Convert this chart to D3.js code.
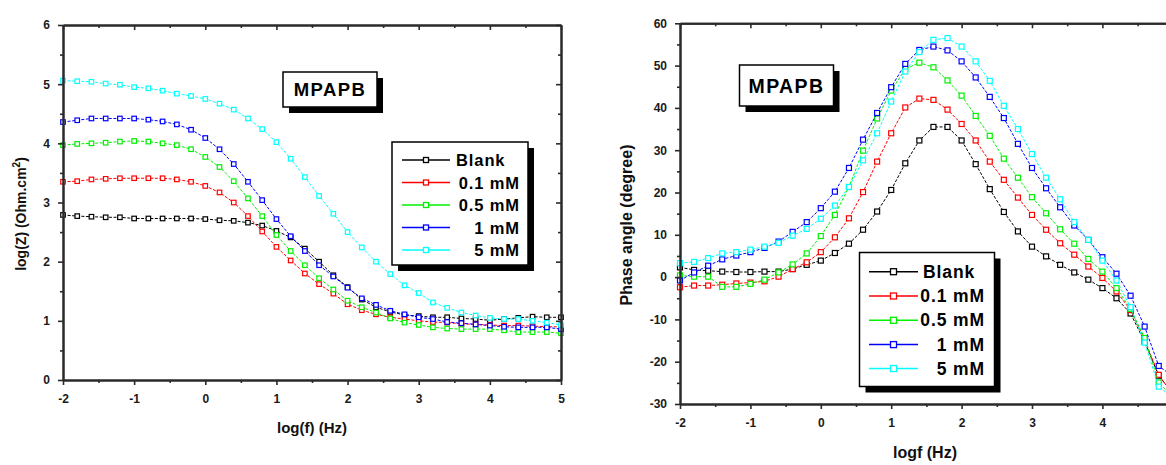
<!DOCTYPE html>
<html>
<head>
<meta charset="utf-8">
<script src="https://cdn.jsdelivr.net/npm/d3@7"></script>
<style>
  html, body { margin: 0; padding: 0; background: #fff; }
  svg { display: block; font-family: "Liberation Sans", Arial, sans-serif; }
</style>
</head>
<body>
<svg id="chart" width="1166" height="465"></svg>
<script>
// log frequency grid (Hz, decades)
const logF = [-2, -1.8, -1.6, -1.4, -1.2, -1, -0.8, -0.6, -0.4, -0.2,
  0, 0.2, 0.4, 0.6, 0.8, 1, 1.2, 1.4, 1.6, 1.8,
  2, 2.2, 2.4, 2.6, 2.8, 3, 3.2, 3.4, 3.6, 3.8,
  4, 4.2, 4.4, 4.6, 4.8, 5];

const seriesNames = ["Blank", "0.1 mM", "0.5 mM", "1 mM", "5 mM"];
const seriesColors = ["#000000", "#ff0000", "#00f000", "#0000ff", "#00ffff"];

// Bode modulus, log|Z| (Ohm.cm2)
const logZBlank = [2.79, 2.77, 2.76, 2.75, 2.75, 2.73, 2.73, 2.73, 2.73, 2.73,
  2.72, 2.70, 2.69, 2.66, 2.61, 2.52, 2.41, 2.22, 2.00, 1.77,
  1.57, 1.36, 1.23, 1.15, 1.10, 1.08, 1.06, 1.06, 1.04, 1.03,
  1.01, 1.03, 1.05, 1.07, 1.06, 1.06];
const logZ01 = [3.35, 3.36, 3.39, 3.40, 3.41, 3.41, 3.41, 3.41, 3.39, 3.35,
  3.28, 3.17, 3.00, 2.77, 2.51, 2.25, 2.02, 1.80, 1.62, 1.46,
  1.28, 1.18, 1.11, 1.06, 1.03, 1.00, 0.98, 0.97, 0.95, 0.94,
  0.93, 0.92, 0.92, 0.91, 0.90, 0.90];
const logZ05 = [3.97, 3.99, 4.00, 4.01, 4.03, 4.04, 4.03, 4.00, 3.97, 3.90,
  3.77, 3.60, 3.36, 3.07, 2.77, 2.45, 2.18, 1.94, 1.72, 1.53,
  1.34, 1.23, 1.14, 1.04, 0.97, 0.93, 0.89, 0.87, 0.86, 0.86,
  0.86, 0.84, 0.81, 0.81, 0.81, 0.79];
const logZ1 = [4.36, 4.39, 4.42, 4.42, 4.42, 4.42, 4.40, 4.37, 4.32, 4.23,
  4.09, 3.90, 3.65, 3.35, 3.04, 2.72, 2.43, 2.18, 1.94, 1.75,
  1.56, 1.38, 1.27, 1.17, 1.11, 1.06, 1.03, 0.98, 0.96, 0.94,
  0.92, 0.90, 0.89, 0.89, 0.89, 0.86];
const logZ5 = [5.06, 5.05, 5.04, 5.01, 4.99, 4.95, 4.93, 4.89, 4.84, 4.80,
  4.75, 4.67, 4.57, 4.42, 4.24, 4.02, 3.74, 3.43, 3.11, 2.81,
  2.50, 2.24, 2.00, 1.79, 1.60, 1.47, 1.31, 1.22, 1.14, 1.09,
  1.05, 1.03, 1.03, 1.00, 0.97, 0.93];

// Bode phase angle (degree)
const phaseBlank = [2.3, 1.7, 1.5, 1.3, 1.2, 1.2, 1.3, 1.3, 1.9, 2.9,
  3.9, 5.7, 7.9, 11.2, 15.5, 20.6, 26.9, 32.3, 35.5, 35.5,
  32.3, 26.7, 20.8, 15.4, 10.8, 7.2, 4.9, 2.9, 1.1, -0.6,
  -2.6, -5.0, -8.6, -15.3, -23.3, -27.5];
const phase01 = [-2.4, -2.0, -2.0, -1.8, -1.5, -1.3, -1.0, 0.1, 1.9, 3.5,
  5.9, 9.4, 13.9, 20.1, 27.3, 34.0, 40.1, 42.2, 41.9, 39.6,
  36.2, 32.3, 27.3, 23.0, 18.8, 14.7, 11.2, 8.0, 5.3, 2.5,
  -0.2, -3.4, -7.8, -14.8, -23.1, -27.8];
const phase05 = [0.4, 0.1, 0.1, -2.3, -2.3, -1.6, -0.6, 1.1, 3.0, 5.6,
  9.7, 14.7, 21.3, 29.9, 37.5, 44.1, 49.2, 50.7, 49.6, 46.5,
  42.9, 38.1, 33.4, 28.0, 23.5, 18.9, 15.1, 11.3, 7.9, 4.3,
  1.3, -2.6, -7.5, -14.4, -24.9, -28.5];
const phase1 = [-0.8, 1.1, 2.7, 4.2, 5.1, 5.9, 6.9, 8.4, 10.7, 13.0,
  16.3, 20.2, 25.8, 32.5, 38.8, 44.9, 50.4, 53.7, 54.5, 53.6,
  51.0, 47.2, 42.6, 37.6, 31.5, 25.8, 21.0, 16.5, 12.2, 8.8,
  4.7, 0.8, -4.4, -11.7, -21.0, -23.5];
const phase5 = [3.3, 3.6, 4.5, 5.6, 5.9, 6.5, 7.2, 8.1, 9.8, 11.4,
  13.8, 16.9, 21.3, 27.6, 34.0, 41.5, 48.6, 53.2, 56.1, 56.5,
  54.5, 51.0, 46.4, 40.5, 35.0, 29.1, 23.5, 18.4, 13.0, 8.8,
  3.9, -0.8, -7.1, -15.5, -25.9, -28.5];

// axis ticks
const xMajor = [-2, -1, 0, 1, 2, 3, 4, 5];
const xMinor = [-1.5, -0.5, 0.5, 1.5, 2.5, 3.5, 4.5];
const xLabelsPhase = [-2, -1, 0, 1, 2, 3, 4];
const zMajor = [0, 1, 2, 3, 4, 5, 6];
const zMinor = [0.5, 1.5, 2.5, 3.5, 4.5, 5.5];
const phaseMajor = [-30, -20, -10, 0, 10, 20, 30, 40, 50, 60];
const phaseMinor = [-25, -15, -5, 5, 15, 25, 35, 45, 55];

const modulusSeries = [logZBlank, logZ01, logZ05, logZ1, logZ5];
const phaseSeries = [phaseBlank, phase01, phase05, phase1, phase5];

const svg = d3.select("#chart");
const AXIS = "#2a2a2a";

function frame(g, x, y, xMaj, xLab, xMin, yMaj, yMin) {
  const [x0, x1] = x.range();
  const [y0, y1] = y.range(); // y0 bottom, y1 top
  const fmt = d => String(d);

  const styleAxis = a => {
    a.select(".domain").attr("stroke", AXIS).attr("stroke-width", 2);
    a.selectAll(".tick line").attr("stroke", AXIS).attr("stroke-width", 1.6);
    a.selectAll("text").attr("font-size", 12).attr("font-weight", "bold")
      .attr("fill", "#1a1a1a").attr("font-family", "Liberation Sans, Arial, sans-serif");
  };

  // bottom (outward ticks)
  g.append("g").attr("transform", `translate(0,${y0})`)
    .call(d3.axisBottom(x).tickValues(xMaj).tickSizeInner(5).tickSizeOuter(0).tickFormat(""))
    .call(styleAxis);
  g.append("g").attr("transform", `translate(0,${y0})`)
    .call(d3.axisBottom(x).tickValues(xLab).tickSize(0).tickPadding(14).tickFormat(fmt))
    .call(styleAxis)
    .call(a => a.select(".domain").remove());
  g.append("g").attr("transform", `translate(0,${y0})`)
    .call(d3.axisBottom(x).tickValues(xMin).tickSizeInner(3).tickSizeOuter(0).tickFormat(""))
    .call(styleAxis);
  // left (outward ticks)
  g.append("g").attr("transform", `translate(${x0},0)`)
    .call(d3.axisLeft(y).tickValues(yMaj).tickSizeInner(5).tickSizeOuter(0).tickPadding(8).tickFormat(fmt))
    .call(styleAxis);
  g.append("g").attr("transform", `translate(${x0},0)`)
    .call(d3.axisLeft(y).tickValues(yMin).tickSizeInner(3).tickSizeOuter(0).tickFormat(""))
    .call(styleAxis);
  // top (inward ticks)
  g.append("g").attr("transform", `translate(0,${y1})`)
    .call(d3.axisTop(x).tickValues(xMaj).tickSizeInner(-5).tickSizeOuter(0).tickFormat(""))
    .call(styleAxis);
  g.append("g").attr("transform", `translate(0,${y1})`)
    .call(d3.axisTop(x).tickValues(xMin).tickSizeInner(-3).tickSizeOuter(0).tickFormat(""))
    .call(styleAxis);
  // right (inward ticks)
  g.append("g").attr("transform", `translate(${x1},0)`)
    .call(d3.axisRight(y).tickValues(yMaj).tickSizeInner(-5).tickSizeOuter(0).tickFormat(""))
    .call(styleAxis);
  g.append("g").attr("transform", `translate(${x1},0)`)
    .call(d3.axisRight(y).tickValues(yMin).tickSizeInner(-3).tickSizeOuter(0).tickFormat(""))
    .call(styleAxis);
}

function plotSeries(g, x, y, seriesList, markerSize) {
  seriesList.forEach((vals, i) => {
    const pts = logF.map((f, k) => [f, vals[k]]);
    const line = d3.line().x(d => x(d[0])).y(d => y(d[1]));
    g.append("path").datum(pts)
      .attr("d", line)
      .attr("fill", "none")
      .attr("stroke", seriesColors[i])
      .attr("stroke-width", 1)
      .attr("stroke-dasharray", "3,1.6");
    g.append("g").selectAll("rect").data(pts).join("rect")
      .attr("x", d => x(d[0]) - markerSize / 2)
      .attr("y", d => y(d[1]) - markerSize / 2)
      .attr("width", markerSize)
      .attr("height", markerSize)
      .attr("fill", "#fff")
      .attr("stroke", seriesColors[i])
      .attr("stroke-width", 1.2);
  });
}

function labelBox(g, x, y, w, h, text, size) {
  g.append("rect").attr("x", x + 6).attr("y", y + 6).attr("width", w).attr("height", h).attr("fill", "#000");
  g.append("rect").attr("x", x).attr("y", y).attr("width", w).attr("height", h)
    .attr("fill", "#fff").attr("stroke", "#000").attr("stroke-width", 1.5);
  g.append("text").attr("x", x + w / 2).attr("y", y + h / 2)
    .attr("text-anchor", "middle").attr("dominant-baseline", "central")
    .attr("font-size", size).attr("font-weight", "bold").attr("letter-spacing", 1.4)
    .attr("fill", "#000").text(text);
}

function legend(g, x, y, w, h, rowY, lineX0, lineX1, textX0, textX1, size, mk) {
  g.append("rect").attr("x", x + 6).attr("y", y + 6).attr("width", w).attr("height", h).attr("fill", "#000");
  g.append("rect").attr("x", x).attr("y", y).attr("width", w).attr("height", h)
    .attr("fill", "#fff").attr("stroke", "#000").attr("stroke-width", 1.5);
  seriesNames.forEach((name, i) => {
    const cy = rowY[i];
    g.append("line").attr("x1", lineX0).attr("x2", lineX1).attr("y1", cy).attr("y2", cy)
      .attr("stroke", seriesColors[i]).attr("stroke-width", 1.5);
    const mx = (lineX0 + lineX1) / 2;
    g.append("rect").attr("x", mx - mk / 2).attr("y", cy - mk / 2).attr("width", mk).attr("height", mk)
      .attr("fill", "#fff").attr("stroke", seriesColors[i]).attr("stroke-width", 1.3);
    const isBlank = i === 0;
    g.append("text")
      .attr("x", isBlank ? textX0 : textX1)
      .attr("y", cy)
      .attr("text-anchor", isBlank ? "start" : "end")
      .attr("dominant-baseline", "central")
      .attr("font-size", size).attr("font-weight", "bold").attr("letter-spacing", 0.9)
      .attr("fill", "#000").text(name);
  });
}

// ---------- left panel: log|Z| vs log f ----------
const gL = svg.append("g");
const xL = d3.scaleLinear().domain([-2, 5]).range([63, 561]);
const yL = d3.scaleLinear().domain([0, 6]).range([380, 25]);
plotSeries(gL, xL, yL, modulusSeries, 4.5);
frame(gL, xL, yL, xMajor, xMajor, xMinor, zMajor, zMinor);
labelBox(gL, 283, 72, 94, 35, "MPAPB", 18.5);
legend(gL, 392, 142, 136, 123, [160, 182.5, 205, 227.5, 250], 402, 450, 456, 520, 16.5, 5);

gL.append("text").attr("x", 312).attr("y", 433).attr("text-anchor", "middle")
  .attr("font-size", 15).attr("font-weight", "bold").attr("fill", "#111").text("log(f) (Hz)");
const yTitleL = gL.append("text").attr("transform", "translate(26,214) rotate(-90)")
  .attr("text-anchor", "middle").attr("font-size", 14).attr("font-weight", "bold").attr("fill", "#111");
yTitleL.append("tspan").text("log(Z) (Ohm.cm");
yTitleL.append("tspan").attr("font-size", 10).attr("dy", -6).text("2");
yTitleL.append("tspan").attr("dy", 6).text(")");

// ---------- right panel: phase angle vs log f ----------
const gR = svg.append("g");
const xR = d3.scaleLinear().domain([-2, 5]).range([680, 1172.8]);
const yR = d3.scaleLinear().domain([-30, 60]).range([404, 23.3]);
plotSeries(gR, xR, yR, phaseSeries, 5);
frame(gR, xR, yR, xMajor, xLabelsPhase, xMinor, phaseMajor, phaseMinor);
labelBox(gR, 739.5, 65, 94, 41, "MPAPB", 19.5);
legend(gR, 859.5, 252.5, 135, 134, [271.7, 296, 320.3, 344.6, 368.5], 869, 918, 923, 985, 17.5, 6);

gR.append("text").attr("x", 925).attr("y", 458).attr("text-anchor", "middle")
  .attr("font-size", 16).attr("font-weight", "bold").attr("fill", "#111").text("logf (Hz)");
gR.append("text").attr("transform", "translate(632,225) rotate(-90)")
  .attr("text-anchor", "middle").attr("font-size", 16).attr("font-weight", "bold").attr("fill", "#111")
  .text("Phase angle (degree)");
</script>
</body>
</html>
